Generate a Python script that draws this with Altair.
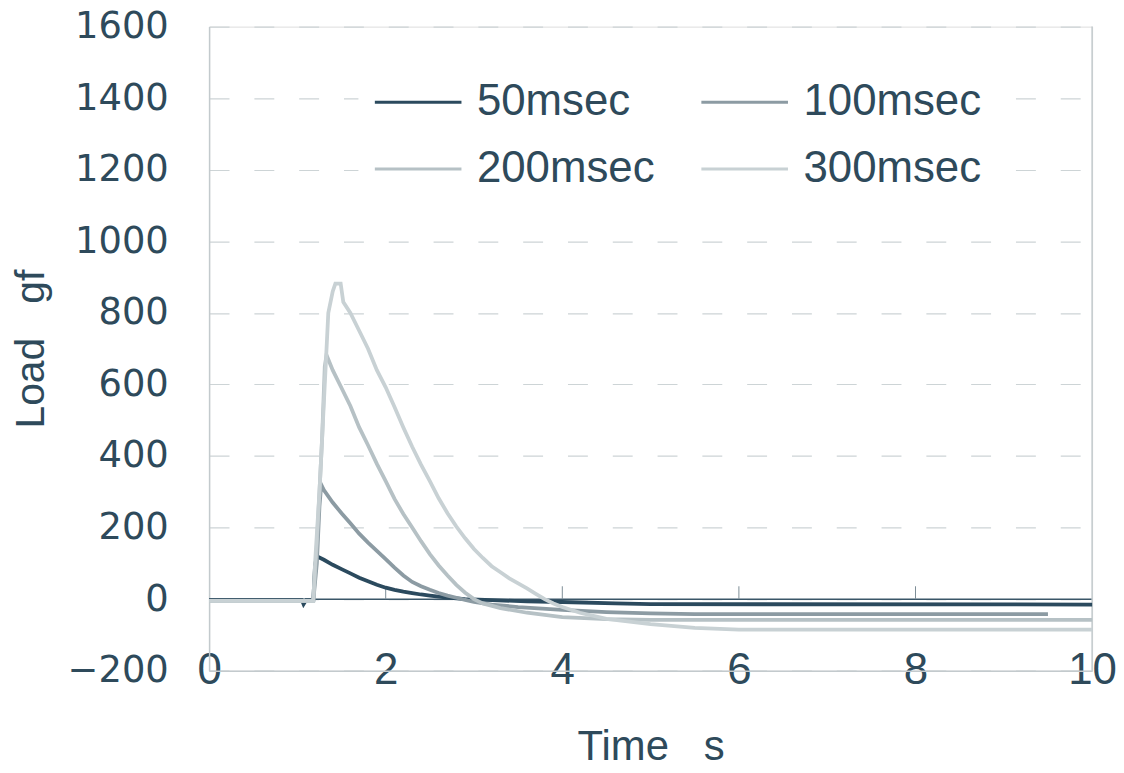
import altair as alt
import pandas as pd

# ---- data ----
series_names = ["50msec", "100msec", "200msec", "300msec"]
series_colors = ["#2b4a5e", "#8c9ba3", "#b6c1c5", "#c8d1d4"]

t_50 = [0, 1.05, 1.07, 1.1, 1.18, 1.2, 1.22, 1.3, 1.4, 1.5, 1.6, 1.7, 1.8, 1.9, 2.0,
        2.1, 2.2, 2.3, 2.4, 2.5, 2.6, 2.7, 2.8, 2.9, 3.2, 3.6, 4.0, 4.6, 5.0, 10]
v_50 = [-2, -2, -14, -2, -2, 95, 120, 110, 96, 84, 72, 60, 50, 40, 32,
        26, 21, 17, 13, 10, 7, 4, 2, 0, -3, -6, -8, -12, -14, -15]

t_100 = [0, 1.18, 1.22, 1.25, 1.27, 1.3, 1.4, 1.5, 1.6, 1.7, 1.8, 1.9, 2.0, 2.1, 2.2,
         2.3, 2.4, 2.5, 2.6, 2.7, 2.8, 2.9, 3.0, 3.2, 3.5, 4.0, 4.5, 5.0, 5.5, 9.5]
v_100 = [-4, -4, 100, 260, 320, 305, 270, 240, 212, 183, 158, 135, 112, 88, 66,
         48, 36, 26, 17, 10, 4, -2, -8, -15, -22, -30, -36, -40, -42, -42]

t_200 = [0, 1.18, 1.22, 1.28, 1.31, 1.33, 1.4, 1.5, 1.6, 1.7, 1.8, 1.9, 2.0, 2.1, 2.2,
         2.3, 2.4, 2.5, 2.6, 2.7, 2.8, 2.9, 3.0, 3.1, 3.3, 3.6, 4.0, 4.5, 5.0, 10]
v_200 = [-5, -5, 150, 450, 650, 682, 640, 590, 540, 480, 430, 378, 330, 280, 238,
         200, 162, 126, 94, 66, 40, 18, 0, -12, -25, -38, -50, -56, -58, -58]

t_300 = [0, 1.18, 1.2, 1.25, 1.3, 1.35, 1.4, 1.43, 1.49, 1.52, 1.6, 1.7, 1.8, 1.9, 2.0,
         2.1, 2.2, 2.3, 2.4, 2.5, 2.6, 2.7, 2.8, 2.9, 3.0, 3.1, 3.2, 3.3, 3.4, 3.5,
         3.6, 3.7, 3.8, 3.9, 4.0, 4.2, 4.5, 5.0, 5.5, 6.0, 10]
v_300 = [-5, -5, 100, 300, 550, 800, 860, 882, 882, 830, 800, 750, 700, 640, 592,
         537, 480, 426, 376, 330, 282, 240, 203, 170, 140, 115, 92, 75, 58, 44,
         30, 15, 0, -12, -22, -38, -55, -70, -80, -85, -85]

x_ticks = [0, 2, 4, 6, 8, 10]
x_minor_ticks = [2, 4, 6, 8]
minor_tick_top = 36  # tick length on the zero line, in load units
y_ticks = [-200, 0, 200, 400, 600, 800, 1000, 1200, 1400, 1600]

# ---- build table ----
rows = []
for name, ts, vs in [("50msec", t_50, v_50), ("100msec", t_100, v_100),
                     ("200msec", t_200, v_200), ("300msec", t_300, v_300)]:
    for t, v in zip(ts, vs):
        rows.append({"series": name, "t": t, "load": v})
df = pd.DataFrame(rows)

TXT = "#2e4a5b"
W, H = 887, 647

xscale = alt.Scale(domain=[0, 10], nice=False)
yscale = alt.Scale(domain=[-200, 1600], nice=False)
cscale = alt.Scale(domain=series_names, range=series_colors)

x_axis = alt.Axis(orient="bottom", values=x_ticks, title="Time\u00a0\u00a0\u00a0s",
                  grid=False, ticks=False,
                  domainColor="#c3cacd", domainWidth=1.5,
                  labelFont="Liberation Sans", labelFontSize=44, labelColor=TXT,
                  labelBaseline="middle", labelPadding=0, labelFlush=False,
                  titleFont="Liberation Sans", titleFontSize=42, titleFontWeight="normal",
                  titleColor=TXT, titleBaseline="alphabetic", titleY=89)
y_axis = alt.Axis(values=y_ticks, title="Load\u00a0\u00a0\u00a0gf", ticks=False, format="d",
                  domainColor="#c3cacd", domainWidth=1.5,
                  grid=True, gridColor="#cdd4d6", gridDash=[20, 25], gridWidth=1.2,
                  labelFont="DejaVu Sans", labelFontSize=37, labelColor=TXT, labelPadding=41,
                  titleFont="Liberation Sans", titleFontSize=41, titleFontWeight="normal",
                  titleColor=TXT, titleAngle=270, titleBaseline="alphabetic",
                  titleX=-166, titleY=H / 2, titleAlign="center")

zero_df = pd.DataFrame({"v": [0]})
zero_line = alt.Chart(zero_df).mark_rule(color="#3a5668", strokeWidth=1.5).encode(
    y=alt.Y("v:Q", scale=yscale, axis=y_axis)
)

right_border = alt.Chart(pd.DataFrame({"x": [10]})).mark_rule(
    color="#c3cacd", strokeWidth=1.5).encode(
    x=alt.X("x:Q", scale=xscale, axis=x_axis),
)

tick_df = pd.DataFrame({"x": x_minor_ticks, "y0": [0] * len(x_minor_ticks),
                        "y1": [minor_tick_top] * len(x_minor_ticks)})
zero_ticks = alt.Chart(tick_df).mark_rule(color="#7d8d96", strokeWidth=1).encode(
    x=alt.X("x:Q", scale=xscale, axis=x_axis),
    y=alt.Y("y0:Q", scale=yscale, axis=y_axis),
    y2="y1:Q",
)

layers = [zero_line, right_border, zero_ticks]
for name in ["50msec", "100msec", "200msec", "300msec"]:
    layers.append(
        alt.Chart(df).transform_filter(alt.datum.series == name)
        .mark_line(strokeWidth=3.8, interpolate="linear")
        .encode(
            x=alt.X("t:Q", scale=xscale, axis=x_axis),
            y=alt.Y("load:Q", scale=yscale, axis=y_axis),
            color=alt.Color("series:N", scale=cscale,
                            legend=alt.Legend(
                                title=None, orient="none", legendX=150, legendY=16,
                                direction="horizontal",
                                columns=2, columnPadding=40, rowPadding=-2,
                                symbolType="stroke", symbolSize=87 * 87, symbolStrokeWidth=3,
                                labelFont="Liberation Sans", labelFontSize=44,
                                labelColor=TXT, labelOffset=14, labelLimit=400,
                                fillColor="white", padding=15)),
        )
    )

chart = alt.layer(*layers).properties(
    width=W, height=H,
    autosize=alt.AutoSizeParams(type="none"),
    padding={"left": 202, "top": 17, "right": 24, "bottom": 92},
).configure_view(stroke=None).configure(background="white")

chart.save("out.html", embed_options={"renderer": "svg", "actions": False})
